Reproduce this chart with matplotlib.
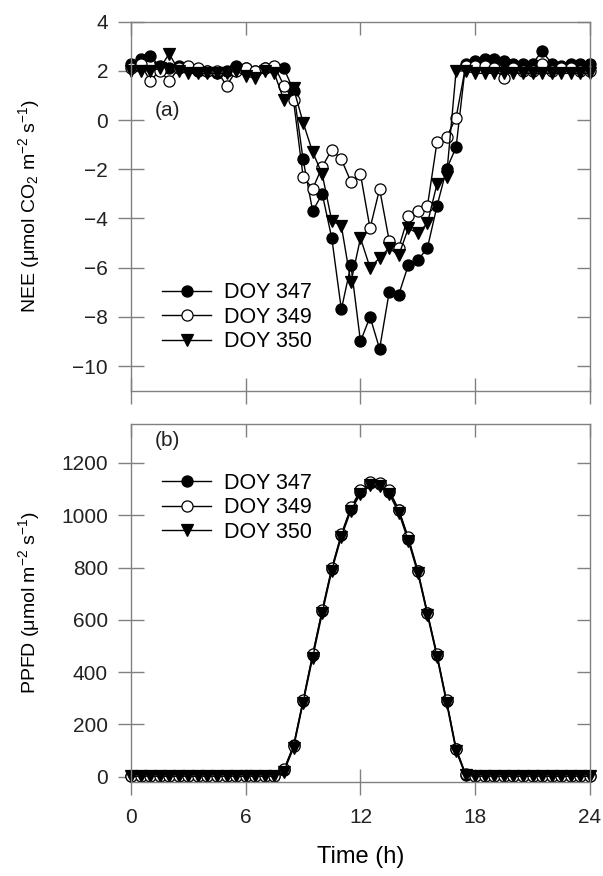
import numpy as np
import matplotlib
matplotlib.use('Agg')
import matplotlib.pyplot as plt

plt.rcParams['font.family'] = ['Liberation Sans', 'DejaVu Sans']
plt.rcParams['mathtext.fontset'] = 'custom'
plt.rcParams['mathtext.rm'] = 'Liberation Sans'
plt.rcParams['mathtext.it'] = 'Liberation Sans:italic'
plt.rcParams['font.size'] = 14

# half-hourly time of day (h)
hours = np.arange(0, 24.5, 0.5)

# NEE (umol CO2 m-2 s-1)
nee_347 = [2.3, 2.5, 2.6, 2.2, 2.1, 2.2, 2.1, 2.0, 2.0, 1.9, 2.0, 2.2, 2.1, 2.0, 2.1, 2.1, 2.1,
           1.2, -1.6, -3.7, -3.0, -4.8, -7.7, -5.9, -9.0, -8.0, -9.3, -7.0, -7.1, -5.9, -5.7, -5.2, -3.5, -2.0, -1.1,
           2.3, 2.4, 2.5, 2.5, 2.4, 2.3, 2.3, 2.3, 2.8, 2.3, 2.2, 2.3, 2.3, 2.3]
nee_349 = [2.1, 2.3, 1.6, 2.0, 1.6, 2.1, 2.2, 2.1, 2.0, 2.0, 1.4, 2.0, 2.1, 2.0, 2.1, 2.2, 1.4,
           0.8, -2.3, -2.8, -1.9, -1.2, -1.6, -2.5, -2.2, -4.4, -2.8, -4.9, -5.2, -3.9, -3.7, -3.5, -0.9, -0.7, 0.1,
           2.2, 2.2, 2.2, 2.1, 1.7, 2.1, 2.0, 2.0, 2.3, 2.0, 2.1, 2.1, 2.0, 2.0]
nee_350 = [2.0, 2.0, 2.0, 2.1, 2.7, 2.0, 1.9, 1.9, 1.9, 1.9, 1.9, 2.0, 1.8, 1.7, 2.0, 1.9, 0.8,
           1.3, -0.1, -1.3, -2.2, -4.1, -4.3, -6.6, -4.8, -6.0, -5.6, -5.2, -5.5, -4.4, -4.6, -4.2, -2.6, -2.3, 2.0,
           2.0, 1.9, 1.9, 1.9, 1.9, 1.9, 1.9, 1.9, 1.9, 1.9, 1.9, 1.9, 1.9, 1.9]

# PPFD (umol m-2 s-1)
night_am = [2] * 16
night_pm = [2] * 13
ppfd_347 = night_am + [25, 120, 290, 465, 635, 795, 925, 1025, 1090, 1125,
                       1120, 1090, 1020, 910, 785, 625, 465, 290, 105, 8] + night_pm
ppfd_349 = night_am + [28, 118, 292, 468, 638, 798, 928, 1030, 1095, 1128,
                       1125, 1095, 1022, 915, 788, 628, 468, 292, 108, 10] + night_pm
ppfd_350 = night_am + [20, 110, 282, 455, 625, 788, 918, 1018, 1082, 1115,
                       1112, 1082, 1010, 902, 778, 618, 458, 282, 98, 5] + night_pm

labels = ['DOY 347', 'DOY 349', 'DOY 350']
styles = [dict(marker='o', mfc='black', mec='black'),
          dict(marker='o', mfc='white', mec='black'),
          dict(marker='v', mfc='black', mec='black')]

fig = plt.figure(figsize=(6.03, 8.76), dpi=100)
ax1 = fig.add_axes([0.2172, 0.5541, 0.7612, 0.4211])
ax2 = fig.add_axes([0.2172, 0.1073, 0.7612, 0.4090])

spine_col = '#808080'
txt_col = '#222222'


def style_axes(ax):
    for s in ax.spines.values():
        s.set_color(spine_col)
        s.set_linewidth(1.0)
    ax.tick_params(axis='both', which='major', direction='inout', length=19, width=1.0,
                   color=spine_col, labelsize=15, labelcolor=txt_col)
    ax.tick_params(axis='y', pad=7)
    ax.tick_params(axis='x', pad=9)
    ax.tick_params(top=True, right=True)
    ax.set_xlim(0, 24)
    ax.set_xticks([0, 6, 12, 18, 24])
    # top/right ticks point inward only
    for t in ax.xaxis.get_major_ticks():
        t.tick2line.set_marker(3)
        t.tick2line.set_markersize(9.5)
    for t in ax.yaxis.get_major_ticks():
        t.tick2line.set_marker(0)
        t.tick2line.set_markersize(9.5)


for ax, series in [(ax1, [nee_347, nee_349, nee_350]), (ax2, [ppfd_347, ppfd_349, ppfd_350])]:
    for y, lab, st in zip(series, labels, styles):
        ax.plot(hours, y, color='black', lw=1.0, ms=8, mew=0.9, label=lab, clip_on=False, **st)

leg_kw = dict(frameon=False, fontsize=15.5, handlelength=2.3, handletextpad=0.6,
              labelspacing=0.16, borderaxespad=0, borderpad=0, loc='center left')

ax1.set_ylim(-11, 4)
ax1.set_yticks(np.arange(-10, 5, 2))
ax1.set_yticklabels(['\u221210', '\u22128', '\u22126', '\u22124', '\u22122', '0', '2', '4'])
style_axes(ax1)
ax1.tick_params(labelbottom=False)
ax1.set_ylabel(r'NEE ($\mathrm{\mu}$mol CO$_2$ m$^{-2}$ s$^{-1}$)', fontsize=14)
ax1.yaxis.set_label_coords(-0.194, 0.5)
ax1.text(0.08, 0.76, '(a)', transform=ax1.transAxes, fontsize=15, color=txt_col,
         ha='center', va='center')
ax1.legend(bbox_to_anchor=(0.0675, 0.199), **leg_kw)

ax2.set_ylim(-20, 1350)
ax2.set_yticks(np.arange(0, 1201, 200))
style_axes(ax2)
ax2.set_ylabel(r'PPFD ($\mathrm{\mu}$mol m$^{-2}$ s$^{-1}$)', fontsize=14)
ax2.yaxis.set_label_coords(-0.194, 0.5)
ax2.set_xlabel('Time (h)', fontsize=17)
ax2.xaxis.set_label_coords(0.5, -0.18)
ax2.text(0.08, 0.952, '(b)', transform=ax2.transAxes, fontsize=15, color=txt_col,
         ha='center', va='center')
ax2.legend(bbox_to_anchor=(0.0675, 0.765), **leg_kw)

fig.savefig('out.png', dpi=100)
